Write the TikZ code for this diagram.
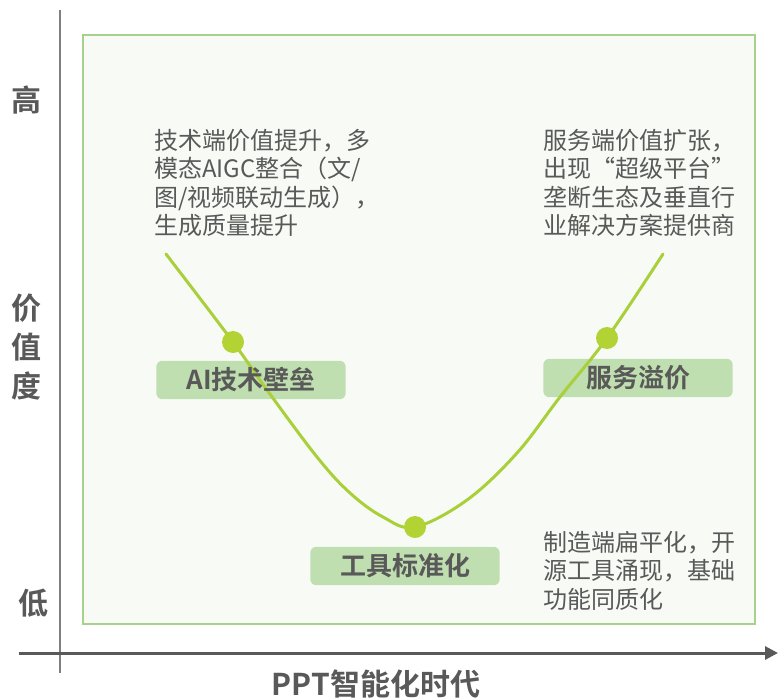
\documentclass[tikz,border=0pt]{standalone}
\usepackage{fontspec}
\setmainfont{Noto Sans CJK SC}[BoldFont={Noto Sans CJK SC Bold}]
\usetikzlibrary{arrows.meta}
\definecolor{txtgray}{HTML}{595959}
\definecolor{axisgray}{HTML}{7F7F7F}
\definecolor{framegreen}{HTML}{A9D18E}
\definecolor{paneback}{HTML}{F8FBF5}
\definecolor{tagback}{HTML}{C0DFB0}
\definecolor{curvegreen}{HTML}{A9CF3A}
\definecolor{dotgreen}{HTML}{B3D335}
\pgfdeclarelayer{back}
\pgfdeclarelayer{mid}
\pgfsetlayers{back,mid,main}
\tikzset{
	axislabel/.style={font=\fontsize{30}{39}\selectfont\bfseries, text=txtgray, inner sep=0pt, align=center},
	note/.style={font=\fontsize{24}{28.5}\selectfont, text=txtgray, inner sep=0pt, align=left, anchor=north west},
	tag/.style={font=\fontsize{26}{30}\selectfont\bfseries, text=txtgray, minimum width=189pt, minimum height=38pt, inner sep=0pt},
	dot/.style={circle, fill=dotgreen, minimum size=22pt, inner sep=0pt},
	curve/.style={draw=curvegreen, line width=3pt, line cap=round}
}
\begin{document}
\begin{tikzpicture}[x=1pt, y=-1pt]
	\useasboundingbox (0,0) rectangle (778,698);
	\coordinate (ytop) at (60,10);
	\coordinate (ybot) at (60,673);
	\coordinate (xleft) at (19,653);
	\coordinate (xright) at (778,653);
	\draw [axisgray, line width=2pt] (ytop) -- (ybot);
	\draw [txtgray, line width=3pt, -{Triangle[length=13pt, width=13pt]}] (xleft) -- (xright);
	\node (high) at (27,100) [axislabel] {高};
	\node (value) at (27,347) [axislabel] {价\\值\\度};
	\node (low) at (33,603) [axislabel] {低};
	\node (era) at (376,684) [axislabel] {PPT智能化时代};
	\node (n1) at (154,129) [note] {技术端价值提升，多\\模态AIGC整合（文/\\图/视频联动生成），\\生成质量提升};
	\node (n2) at (543,129) [note] {服务端价值扩张，\\出现“超级平台”\\垄断生态及垂直行\\业解决方案提供商};
	\node (n3) at (543,531) [note] {制造端扁平化，开\\源工具涌现，基础\\功能同质化};
	\node (ai) at (251,380) [tag] {AI技术壁垒};
	\node (tool) at (405,566) [tag] {工具标准化};
	\node (serv) at (638,378) [tag] {服务溢价};
	\begin{pgfonlayer}{back}
	\node (pane) at (419,329.5) [draw=framegreen, fill=paneback, line width=2pt, minimum width=672pt, minimum height=589pt, inner sep=0pt] {};
	\fill [tagback, rounded corners=6pt] (ai.south west) rectangle (ai.north east);
	\fill [tagback, rounded corners=6pt] (tool.south west) rectangle (tool.north east);
	\fill [tagback, rounded corners=6pt] (serv.south west) rectangle (serv.north east);
	\end{pgfonlayer}
	\begin{pgfonlayer}{mid}
	\draw [curve] plot [smooth, tension=0.6] coordinates {(166,254) (233,342) (267,390) (317,457) (350,493) (383,517) (415,527) (467,500) (517,453) (560,397) (607,338) (663,254)};
	\node (p1) at (233,342) [dot] {};
	\node (p2) at (415,527) [dot] {};
	\node (p3) at (607,338) [dot] {};
	\end{pgfonlayer}
\end{tikzpicture}
\end{document}
